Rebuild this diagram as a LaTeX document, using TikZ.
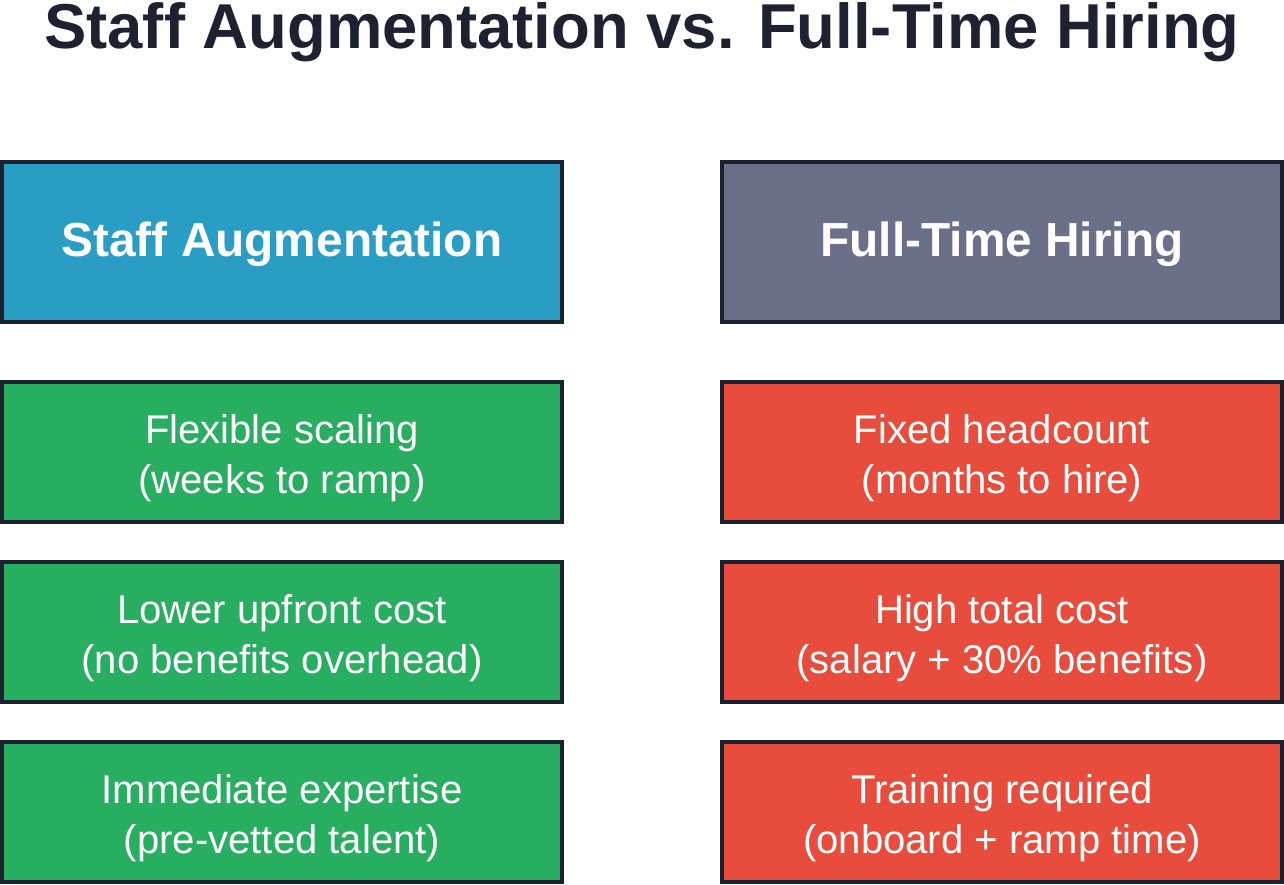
\documentclass[tikz,border=0pt]{standalone}
\usepackage{fontspec}
\setmainfont{Liberation Sans}
\definecolor{augblue}{HTML}{2A9DC4}
\definecolor{hiregray}{HTML}{6B7089}
\definecolor{progreen}{HTML}{27AE60}
\definecolor{conred}{HTML}{E74C3C}
\definecolor{edgedark}{HTML}{1A2230}
\definecolor{titleink}{HTML}{1E2130}
\tikzset{
	cell/.style={shape=rectangle, draw=edgedark, line width=2.8pt, minimum width=14cm},
	headcell/.style={cell, minimum height=4cm},
	rowcell/.style={cell, minimum height=3.5cm},
	headtext/.style={anchor=center, align=center, text=white, font=\fontsize{34}{40}\selectfont\bfseries},
	rowtext/.style={anchor=center, align=center, text=white, font=\fontsize{28.5}{35.6}\selectfont}
}
\begin{document}
\begin{tikzpicture}
	% Canvas:
	\fill[white] (0, 0) rectangle (32.1, -22.1);
	\useasboundingbox (0, 0) rectangle (32.1, -22.1);
	% Title:
	\node[anchor=base, text=titleink, font=\fontsize{45.1}{50}\selectfont\bfseries, inner sep=0pt] (title) at (16.05, -1.2){Staff Augmentation vs. Full-Time Hiring};
	% Headers:
	\node[headcell, fill=augblue] (staffhead) at (7.05, -6.05){} node[headtext] (staffheadtext) at (7.05, -6.1){Staff Augmentation};
	\node[headcell, fill=hiregray] (hirehead) at (25.05, -6.05){} node[headtext] (hireheadtext) at (25.05, -6.1){Full-Time Hiring};
	% Staff augmentation column:
	\node[rowcell, fill=progreen] (staffa) at (7.05, -11.3){} node[rowtext] (staffatext) at (7.05, -11.45){Flexible scaling\\(weeks to ramp)};
	\node[rowcell, fill=progreen] (staffb) at (7.05, -15.8){} node[rowtext] (staffbtext) at (7.05, -15.95){Lower upfront cost\\(no benefits overhead)};
	\node[rowcell, fill=progreen] (staffc) at (7.05, -20.3){} node[rowtext] (staffctext) at (7.05, -20.45){Immediate expertise\\(pre-vetted talent)};
	% Full-time hiring column:
	\node[rowcell, fill=conred] (hirea) at (25.05, -11.3){} node[rowtext] (hireatext) at (25.05, -11.45){Fixed headcount\\(months to hire)};
	\node[rowcell, fill=conred] (hireb) at (25.05, -15.8){} node[rowtext] (hirebtext) at (25.05, -15.95){High total cost\\(salary + 30\% benefits)};
	\node[rowcell, fill=conred] (hirec) at (25.05, -20.3){} node[rowtext] (hirectext) at (25.05, -20.45){Training required\\(onboard + ramp time)};
\end{tikzpicture}
\end{document}
